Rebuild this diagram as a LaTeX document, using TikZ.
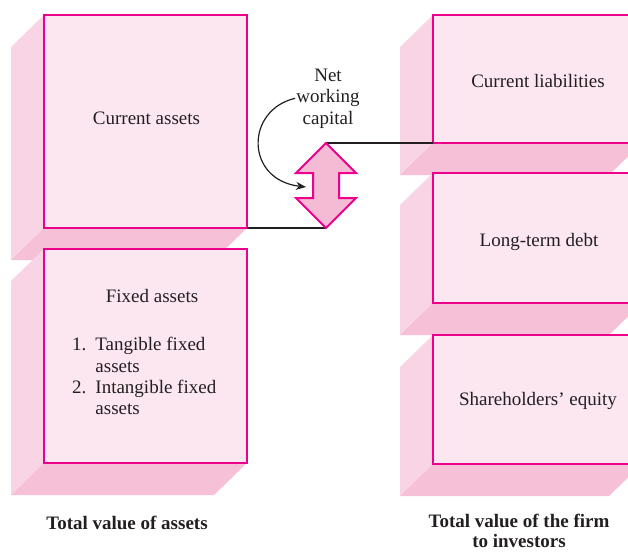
\documentclass[tikz,border=0pt]{standalone}
\usepackage{fontspec}
\setmainfont{Liberation Serif}
\usetikzlibrary{calc,arrows.meta}
\definecolor{mag}{HTML}{EC008C}
\definecolor{facefill}{HTML}{FCE7F0}
\definecolor{sidefill}{HTML}{F9D4E4}
\definecolor{botfill}{HTML}{F6C0D7}
\definecolor{arrfill}{HTML}{F5BAD4}
\definecolor{ink}{HTML}{231F20}
\tikzset{
  face/.style={draw=mag, line width=2pt, fill=facefill, anchor=north west,
    inner sep=0pt, outer sep=0pt},
  lbl/.style={text=ink, font=\fontsize{19}{21}\selectfont, inner sep=0pt, align=center, anchor=base},
  ttl/.style={text=ink, font=\bfseries\fontsize{19}{20}\selectfont, align=center, inner sep=0pt, anchor=base},
  link/.style={draw=ink, line width=1.2pt},
  arrowbody/.style={draw=mag, line width=2pt, fill=arrfill, line join=miter},
}
\newcommand\slab[5]{%
  \fill[sidefill] (#2,#3) -- ++(-33,32) -- ($(#2,#5)+(-33,32)$) -- (#2,#5) -- cycle;
  \fill[botfill] (#2,#5) -- (#4,#5) -- ++(-33,32) -- ($(#2,#5)+(-33,32)$) -- cycle;
  \node[face, minimum width={#4pt-#2pt}, minimum height={#5pt-#3pt}] (#1) at (#2,#3) {};}
\begin{document}
\begin{tikzpicture}[x=1pt,y=-1pt]
\clip (0,0) rectangle (628,552);
% left column
\slab{ca}{44}{15}{247}{228}
\node[lbl] (catext) at (146.5,124) {Current assets};
\slab{fa}{44}{249}{247}{463}
\node[lbl] (fatitle) at (152,302) {Fixed assets};
\node[lbl, anchor=base west, align=left, font=\fontsize{19}{21.3}\selectfont] (falist) at (72,350.7)
  {\begin{tabular}[t]{@{}r@{\hspace{9pt}}l@{}}1. & Tangible fixed\\ & assets\\ 2. & Intangible fixed\\ & assets\end{tabular}};
% right column
\slab{cl}{433}{15}{642}{143}
\node[lbl] (cltext) at (538,87) {Current liabilities};
\slab{ltd}{433}{173}{642}{303}
\node[lbl] (ltdtext) at (539,246) {Long-term debt};
\slab{se}{433}{335}{642}{464}
\node[lbl] (setext) at (538,405.5) {Shareholders’ equity};
% net working capital arrow
\coordinate (nwctop) at (326,143);
\coordinate (nwcbot) at (326,228);
\coordinate (nwcin) at (306,187);
\draw[link] (ca.south east) -- (nwcbot);
\draw[link] (nwctop) -- (cl.south west);
\draw[arrowbody] (nwctop) -- (296,173) -- (313,173) -- (313,198) -- (296,198) -- (nwcbot)
  -- (356,198) -- (339,198) -- (339,173) -- (356,173) -- cycle;
\node[lbl, font=\fontsize{19}{21.5}\selectfont] (nwctext) at (328,124) {Net\\working\\capital};
\draw[link, -{Stealth[length=10pt,width=8pt]}] ($(nwctext.west)+(-1,0)$) .. controls (245,110) and (245,180) .. (nwcin);
% titles
\node[ttl] (tva) at (127,529.5) {Total value of assets};
\node[ttl] (tvf) at (519,547) {Total value of the firm\\to investors};
\end{tikzpicture}
\end{document}
